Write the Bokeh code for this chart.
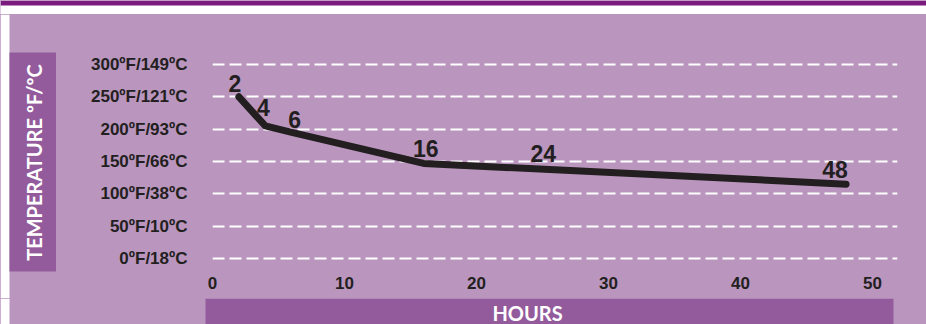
import math

from bokeh.core.properties import value
from bokeh.embed import file_html
from bokeh.layouts import column, row
from bokeh.models import ColumnDataSource, FixedTicker, Range1d
from bokeh.plotting import figure
from bokeh.resources import INLINE

# Cooling curve: hours elapsed vs. temperature (ºF)
hours = [2, 4, 6, 16, 24, 48]
temps_f = [250, 205, 195, 147, 139, 115]
point_labels = ["2", "4", "6", "16", "24", "48"]

x_ticks = [0, 10, 20, 30, 40, 50]
y_ticks = [0, 50, 100, 150, 200, 250, 300]
y_tick_labels = ["0ºF/18ºC", "50ºF/10ºC", "100ºF/38ºC", "150ºF/66ºC",
                 "200ºF/93ºC", "250ºF/121ºC", "300ºF/149ºC"]

x_title = "HOURS"
y_title = "TEMPERATURE ºF/ºC"

# Colours
BG = "#BA96BF"
PANEL = "#935B9C"
TOP_BAND = "#7A1B7D"
INK = "#231F20"

NUM_FONT = "Liberation Sans"
TITLE_FONT = "Lato, Liberation Sans"

# Page geometry (pixels)
W, H = 926, 324
HEADER_H = 14
SIDE_W = 56
FOOTER_H = 26
MAIN_W = W - SIDE_W
MAIN_H = H - HEADER_H - FOOTER_H

# Plot frame inside the main figure
FRAME_L, FRAME_R = 156, 841
FRAME_T, FRAME_B = 0, 256
X0_PX, PX_PER_HOUR = 156, 13.2
Y0_PX, PX_PER_DEG = 244, 0.6467


def px_x(px):
    return (px - X0_PX) / PX_PER_HOUR


def px_y(py):
    return (Y0_PX - py) / PX_PER_DEG


def plain(width, height, bg):
    """A bare figure in pixel coordinates (y grows downward)."""
    f = figure(width=width, height=height,
               x_range=Range1d(0, width), y_range=Range1d(height, 0),
               x_axis_type=None, y_axis_type=None,
               output_backend="svg", toolbar_location=None,
               min_border=0, outline_line_color=None,
               background_fill_color=bg, border_fill_color=bg)
    f.grid.visible = False
    return f


# Header: dark band over a white strip
header = plain(W, HEADER_H, "white")
header.quad(left=[0], right=[W], top=[0], bottom=[5],
            fill_color=TOP_BAND, line_color=None)

# Left side: white margin plus the temperature title panel
side = plain(SIDE_W, MAIN_H, BG)
side.quad(left=[0], right=[9], top=[0], bottom=[MAIN_H],
          fill_color="white", line_color=None)
side.quad(left=[9], right=[SIDE_W], top=[38], bottom=[257],
          fill_color=PANEL, line_color=None)
side.text(x=[33], y=[148], text=[y_title], angle=math.pi / 2,
          text_align="center", text_baseline="middle", text_color="white",
          text_font=value(TITLE_FONT), text_font_style="bold",
          text_font_size="20px")

# Main chart
p = figure(
    width=MAIN_W, height=MAIN_H,
    x_range=Range1d(px_x(FRAME_L), px_x(FRAME_R)),
    y_range=Range1d(px_y(FRAME_B), px_y(FRAME_T)),
    output_backend="svg", toolbar_location=None,
    min_border_left=FRAME_L, min_border_right=MAIN_W - FRAME_R,
    min_border_top=FRAME_T, min_border_bottom=MAIN_H - FRAME_B,
    background_fill_color=BG, border_fill_color=BG,
    outline_line_color=None,
)

for ax in (p.xaxis[0], p.yaxis[0]):
    ax.axis_line_color = None
    ax.major_tick_line_color = None
    ax.minor_tick_line_color = None
    ax.major_tick_in = 0
    ax.major_tick_out = 0
    ax.minor_tick_in = 0
    ax.minor_tick_out = 0
    ax.major_label_text_font = NUM_FONT
    ax.major_label_text_font_style = "bold"
    ax.major_label_text_color = INK
    ax.major_label_text_font_size = "17px"

p.xaxis.ticker = FixedTicker(ticks=x_ticks)
p.xaxis.major_label_standoff = 6
p.yaxis.ticker = FixedTicker(ticks=y_ticks)
p.yaxis.major_label_overrides = dict(zip(y_ticks, y_tick_labels))
p.yaxis.major_label_standoff = 25

p.xgrid.visible = False
p.ygrid.grid_line_color = "white"
p.ygrid.grid_line_width = 2
p.ygrid.grid_line_dash = "12 5"

src = ColumnDataSource(dict(
    x=hours, y=temps_f, label=point_labels,
    dx=[-4, -2, 3, 2, 14, -11],
    dy=[-13, -18, -13, -15, -15, -15],
))
p.line("x", "y", source=src, line_width=7, line_color=INK,
       line_cap="round", line_join="round")
p.text("x", "y", text="label", source=src, x_offset="dx", y_offset="dy",
       text_align="center", text_baseline="middle",
       text_font=value(NUM_FONT), text_font_style="bold",
       text_font_size="23px", text_color=INK)

# Footer: white margin plus the hours title panel
footer = plain(W, FOOTER_H, BG)
footer.quad(left=[0], right=[9], top=[0], bottom=[FOOTER_H],
            fill_color="white", line_color=None)
footer.quad(left=[205], right=[893], top=[0], bottom=[FOOTER_H],
            fill_color=PANEL, line_color=None)
footer.text(x=[527], y=[14], text=[x_title],
            text_align="center", text_baseline="middle", text_color="white",
            text_font=value(TITLE_FONT), text_font_style="bold",
            text_font_size="20px")

layout = column(header, row(side, column(p)), footer)
layout.styles = {"background-color": BG}

open("out.html", "w").write(file_html(layout, INLINE))
